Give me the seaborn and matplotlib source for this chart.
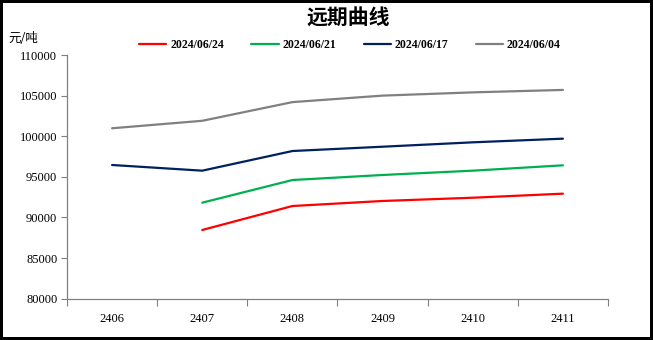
import numpy as np
import pandas as pd
import matplotlib
matplotlib.use("Agg")
import matplotlib.pyplot as plt
import seaborn as sns

months = ["2406", "2407", "2408", "2409", "2410", "2411"]
series_names = ["2024/06/24", "2024/06/21", "2024/06/17", "2024/06/04"]
s0624 = [np.nan, 88460, 91410, 92030, 92430, 92930]
s0621 = [np.nan, 91820, 94610, 95230, 95760, 96420]
s0617 = [96460, 95760, 98180, 98710, 99250, 99700]
s0604 = [100980, 101900, 104200, 105000, 105400, 105700]
colors = ["#FF0000", "#00B050", "#002060", "#808080"]
yticks = [80000, 85000, 90000, 95000, 100000, 105000, 110000]

sns.set_theme(style="white")
plt.rcParams['font.family'] = ['Liberation Serif', 'Noto Sans CJK SC']
plt.rcParams['text.color'] = 'black'
plt.rcParams['xtick.labelcolor'] = 'black'
plt.rcParams['ytick.labelcolor'] = 'black'

rows = []
for name, vals in zip(series_names, [s0624, s0621, s0617, s0604]):
    for i, (m, v) in enumerate(zip(months, vals)):
        rows.append({"pos": i, "month": m, "series": name, "value": v})
df = pd.DataFrame(rows).dropna()

fig = plt.figure(figsize=(6.53, 3.4), dpi=100, linewidth=3, edgecolor="black")
ax = fig.add_axes([67/653, 1-298.7/340, (608-67)/653, (298.7-55)/340])

sns.lineplot(data=df, x="pos", y="value", hue="series", hue_order=series_names,
             palette=colors, linewidth=1.6, ax=ax, legend=True)

ax.set_xlim(-0.5, len(months) - 0.5)
ax.set_ylim(yticks[0], yticks[-1])
ax.set_yticks(yticks)
ax.set_yticklabels([str(t) for t in yticks], fontsize=9, color="black")
ax.set_xticks(range(len(months)))
ax.set_xticklabels(months, fontsize=9, color="black")
ax.set_xticks(np.arange(-0.5, len(months)), minor=True)
ax.tick_params(axis="x", which="major", length=0, pad=10)
ax.tick_params(axis="x", which="minor", length=5, width=0.8, color="#808080", direction="out", bottom=True)
ax.tick_params(axis="y", which="major", length=4, width=0.8, color="#808080", direction="out", left=True, pad=3)
ax.set_xlabel("")
ax.set_ylabel("")
for s in ["top", "right"]:
    ax.spines[s].set_visible(False)
for s in ["left", "bottom"]:
    ax.spines[s].set_color("#808080")
    ax.spines[s].set_linewidth(0.9)
ax.grid(False)

handles, labels = ax.get_legend_handles_labels()
ax.legend_.remove()
leg = fig.legend(handles, labels, loc="center", bbox_to_anchor=(350/653, 1-45/340),
                 ncol=4, frameon=False, prop={"family": "Liberation Serif", "weight": "bold", "size": 8.5},
                 handlelength=2.3, handletextpad=0.35, columnspacing=2.3)
for t in leg.get_texts():
    t.set_color("black")

fig.text(348/653, 1-18/340, "远期曲线", ha="center", va="center", color="black",
         fontsize=15, fontweight="bold", family=["Noto Sans CJK SC", "DejaVu Sans"])
fig.text(8/653, 1-38/340, "元/吨", ha="left", va="center", color="black",
         fontsize=9, family=["Noto Sans CJK SC", "DejaVu Sans"])

fig.savefig("out.png", dpi=100)
